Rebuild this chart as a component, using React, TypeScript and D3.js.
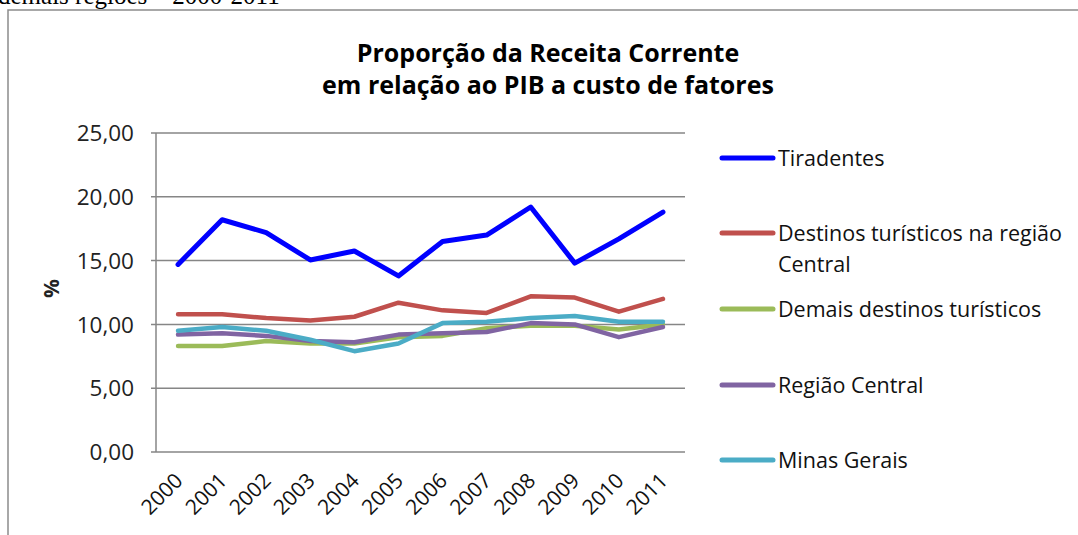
import React from "react";
import * as d3 from "d3";

const years = ["2000","2001","2002","2003","2004","2005","2006","2007","2008","2009","2010","2011"];
const tiradentes = [14.7, 18.2, 17.2, 15.05, 15.75, 13.8, 16.5, 17.0, 19.2, 14.8, 16.7, 18.8];
const destinosCentral = [10.8, 10.8, 10.5, 10.3, 10.6, 11.7, 11.1, 10.9, 12.2, 12.1, 11.0, 12.0];
const demaisDestinos = [8.3, 8.3, 8.7, 8.5, 8.5, 9.0, 9.1, 9.7, 9.9, 9.9, 9.6, 10.0];
const regiaoCentral = [9.2, 9.3, 9.1, 8.7, 8.6, 9.2, 9.3, 9.4, 10.1, 10.0, 9.0, 9.8];
const minasGerais = [9.5, 9.8, 9.5, 8.8, 7.9, 8.5, 10.1, 10.2, 10.5, 10.65, 10.2, 10.2];
const yTicks = [0, 5, 10, 15, 20, 25];

const series = [
  { name: ["Tiradentes"], values: tiradentes, color: "#0000FF", width: 5 },
  { name: ["Destinos turísticos na região", "Central"], values: destinosCentral, color: "#C0504D", width: 4.5 },
  { name: ["Demais destinos turísticos"], values: demaisDestinos, color: "#9BBB59", width: 4.5 },
  { name: ["Região Central"], values: regiaoCentral, color: "#8064A2", width: 4.5 },
  { name: ["Minas Gerais"], values: minasGerais, color: "#4BACC6", width: 4.5 },
];
const legendY = [158, 233, 309, 385, 460];

const FONT = "'Open Sans', Lato, sans-serif";

export default function App() {
  const W = 1078, H = 535;
  const left = 156, right = 685, top = 133, bottom = 452;
  const x = d3.scaleBand().domain(years).range([left, right]);
  const y = d3.scaleLinear().domain([0, 25]).range([bottom, top]);
  const cx = (d: string) => (x(d) as number) + x.bandwidth() / 2;
  const line = d3.line<number>().x((_, i) => cx(years[i])).y((v) => y(v));
  const fmt = (v: number) => v.toFixed(2).replace(".", ",");
  const grid = "#868686";

  return (
    <svg width={W} height={H} style={{ position: "absolute", left: 0, top: 0, background: "#fff" }}>
      <text x={-2} y={4} fontFamily="'Liberation Serif', 'Times New Roman', serif" fontSize={25} fill="#000">
        demais regiões – 2000-2011
      </text>
      <rect x={8} y={10} width={1200} height={700} fill="#fff" stroke="#8c8c8c" strokeWidth={1.5} />
      <text x={548} y={62} textAnchor="middle" fontFamily={FONT} fontWeight="bold" fontSize={25} fill="#000">
        Proporção da Receita Corrente
      </text>
      <text x={548} y={94} textAnchor="middle" fontFamily={FONT} fontWeight="bold" fontSize={25} fill="#000">
        em relação ao PIB a custo de fatores
      </text>
      {yTicks.map((t) => (
        <g key={t}>
          <line x1={left - 5} x2={right} y1={y(t)} y2={y(t)} stroke={grid} strokeWidth={1.5} />
          <text x={134} y={y(t)} dy="0.36em" textAnchor="end" fontFamily={FONT} fontSize={22.5} fill="#222">
            {fmt(t)}
          </text>
        </g>
      ))}
      <line x1={left} x2={left} y1={top} y2={bottom} stroke={grid} strokeWidth={1.5} />
      <text transform={`translate(59,${(top + bottom) / 2 - 4}) rotate(-90)`} textAnchor="middle" fontFamily={FONT} fontWeight="bold" fontSize={21} fill="#222">
        %
      </text>
      {years.map((yr) => (
        <text key={yr} transform={`translate(${cx(yr) + 6},${bottom + 30}) rotate(-45)`} textAnchor="end" fontFamily={FONT} fontSize={21} fill="#111">
          {yr}
        </text>
      ))}
      {series.map((s) => (
        <path key={s.name[0]} d={line(s.values) as string} fill="none" stroke={s.color} strokeWidth={s.width} strokeLinejoin="round" strokeLinecap="round" />
      ))}
      {series.map((s, i) => (
        <g key={"lg" + i}>
          <line x1={722} x2={773} y1={legendY[i]} y2={legendY[i]} stroke={s.color} strokeWidth={5} strokeLinecap="round" />
          {s.name.map((n, j) => (
            <text key={j} x={778} y={legendY[i] + j * 31} dy="0.35em" fontFamily={FONT} fontSize={21.5} fill="#111">
              {n}
            </text>
          ))}
        </g>
      ))}
    </svg>
  );
}
